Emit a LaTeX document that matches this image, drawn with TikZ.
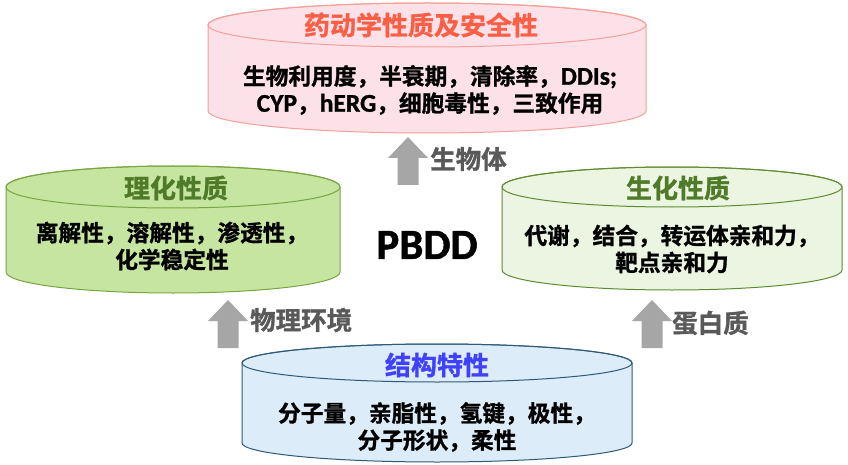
\documentclass[tikz,border=0pt]{standalone}
\usepackage{fontspec}
\setmainfont{Noto Sans CJK SC}[BoldFont={Noto Sans CJK SC Bold}, BoldFeatures={FakeBold=1.2}]
\newfontfamily\latfont{Carlito}[BoldFont={Carlito Bold}, BoldFeatures={FakeBold=1.2}]
\definecolor{pinkfill}{RGB}{253,225,232}
\definecolor{pinkdraw}{RGB}{244,160,150}
\definecolor{pinktitle}{RGB}{250,95,70}
\definecolor{lgfill}{RGB}{198,229,160}
\definecolor{lgdraw}{RGB}{120,165,65}
\definecolor{rgfill}{RGB}{235,245,225}
\definecolor{rgdraw}{RGB}{95,140,50}
\definecolor{greentitle}{RGB}{79,122,40}
\definecolor{bfill}{RGB}{220,236,248}
\definecolor{bdraw}{RGB}{45,90,120}
\definecolor{btitle}{RGB}{64,64,255}
\definecolor{arrowgray}{RGB}{166,166,166}
\definecolor{labelgray}{RGB}{89,89,89}
\newcommand\mycyl[7]{%
  \path[fill=#6, draw=#7, line width=1pt] ({#1-#4},#2) -- ({#1-#4},#3)
    arc[start angle=180,end angle=360,x radius=#4pt,y radius=#5pt]
    -- ({#1+#4},#2)
    arc[start angle=0,end angle=180,x radius=#4pt,y radius=#5pt] -- cycle;
  \draw[#7, line width=1pt] (#1,#2) ellipse[x radius=#4pt, y radius=#5pt];
}
\newcommand\myuparrow[4]{%
  \fill[arrowgray] ({#2-10.5},#4) -- ({#2-10.5},{#3+21}) -- ({#2-20},{#3+21}) -- (#2,#3)
    -- ({#2+20},{#3+21}) -- ({#2+10.5},{#3+21}) -- ({#2+10.5},#4) -- cycle;
  \coordinate (#1) at (#2,#3);
}
\newcommand\lat[1]{{\latfont\fontsize{25.5}{27}\selectfont #1}}
\tikzset{
  titletext/.style={font=\bfseries\fontsize{26}{30}\selectfont, inner sep=0pt},
  bodytext/.style={font=\bfseries\fontsize{22.7}{27}\selectfont, align=center, inner sep=0pt, text=black},
  labeltext/.style={font=\bfseries\fontsize{25.5}{28}\selectfont, inner sep=0pt, text=labelgray},
}
\begin{document}
\begin{tikzpicture}[x=1pt,y=-1pt]
\useasboundingbox (0,0) rectangle (848,465);
% cylinders
\mycyl{427}{25}{111}{219}{22}{pinkfill}{pinkdraw}
\mycyl{173}{187}{272}{167}{21}{lgfill}{lgdraw}
\mycyl{672}{187}{270}{170}{20}{rgfill}{rgdraw}
\mycyl{437}{363}{443}{195}{19}{bfill}{bdraw}
% titles
\node[titletext, text=pinktitle] (ttop) at (421,25) {药动学性质及安全性};
\node[titletext, text=greentitle] (tleft) at (176,188) {理化性质};
\node[titletext, text=greentitle] (tright) at (678,188) {生化性质};
\node[titletext, text=btitle] (tbottom) at (437,365) {结构特性};
% bodies
\node[bodytext] (btop) at (430,90) {生物利用度，半衰期，清除率，\lat{DDIs;}\\\lat{CYP}，\lat{hERG}，细胞毒性，三致作用};
\node[bodytext] (bleft) at (172,246) {离解性，溶解性，渗透性，\\化学稳定性};
\node[bodytext] (bright) at (672,249) {代谢，结合，转运体亲和力，\\靶点亲和力};
\node[bodytext] (bbottom) at (437,427) {分子量，亲脂性，氢键，极性，\\分子形状，柔性};
% center label
\node[font=\latfont\bfseries\fontsize{43}{48}\selectfont, inner sep=0pt] (pbdd) at (427,245) {PBDD};
% arrows
\myuparrow{a1}{408}{137}{185}
\myuparrow{a2}{228}{300}{348}
\myuparrow{a3}{652}{300}{348}
\node[labeltext, anchor=west] (l1) at (430,159) {生物体};
\node[labeltext, anchor=west] (l2) at (250,320) {物理环境};
\node[labeltext, anchor=west] (l3) at (672,323) {蛋白质};
\end{tikzpicture}
\end{document}
